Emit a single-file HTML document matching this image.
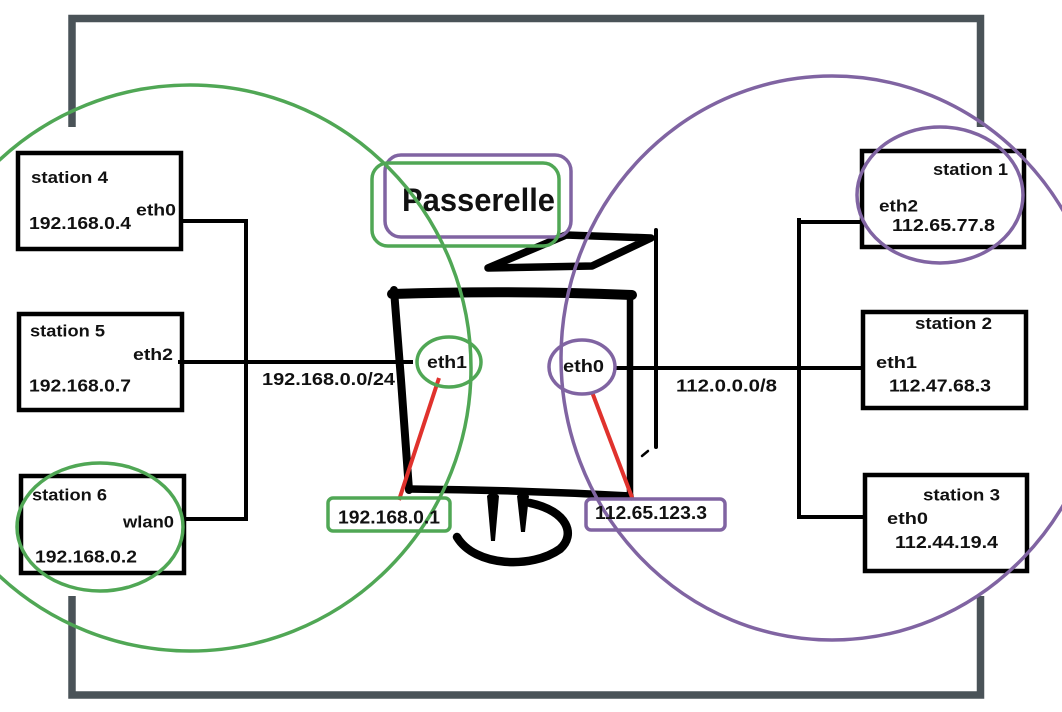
<!DOCTYPE html>
<html><head><meta charset="utf-8"><style>
html,body{margin:0;padding:0;background:#fff;}
svg{display:block;}
text{font-family:"Liberation Sans",Arial,sans-serif;fill:#111;font-weight:bold;}
</style></head><body>
<svg width="1062" height="712" viewBox="0 0 1062 712" xmlns="http://www.w3.org/2000/svg">
<!-- frame -->
<g stroke="#4a5358" stroke-width="7.5" fill="none" stroke-linecap="butt">
<polyline points="72,127 72,18.5 980.5,18.5 980.5,127"/>
<polyline points="72,596 72,695 980.5,695 980.5,596"/>
</g>

<!-- buses -->
<g stroke="#000" stroke-width="4" fill="none">
<line x1="181" y1="221" x2="248" y2="221"/>
<line x1="246" y1="219" x2="246" y2="521"/>
<line x1="184" y1="519" x2="248" y2="519"/>
<line x1="178" y1="362" x2="413" y2="362"/>
<line x1="799" y1="218" x2="799" y2="519"/>
<line x1="797" y1="222" x2="862" y2="222"/>
<line x1="615" y1="368" x2="863" y2="368"/>
<line x1="797" y1="517" x2="866" y2="517"/>
</g>

<!-- station boxes -->
<g stroke="#000" stroke-width="4.5" fill="none">
<rect x="18" y="153" width="163" height="96"/>
<rect x="19" y="314" width="163" height="96"/>
<rect x="21" y="476" width="163" height="97"/>
<rect x="862" y="151" width="162" height="96"/>
<rect x="863" y="312" width="163" height="96"/>
<rect x="865" y="475" width="162" height="96"/>
</g>

<!-- monitor sketch -->
<g stroke="#000" fill="none" stroke-linecap="round" stroke-linejoin="round">
<polygon points="488,268 566,235 651,238 592,266" stroke-width="7.5"/>
<path d="M392,294 Q510,290 632,295" stroke-width="10"/>
<path d="M394,290 L401,380 L409,490" stroke-width="8"/>
<path d="M409,489 Q520,490 630,496" stroke-width="7.5"/>
<path d="M630,296 L630,496" stroke-width="6.5"/>
<path d="M656,230 L656,447" stroke-width="4"/>
<path d="M642,456 L648,451" stroke-width="2.5"/>
<path d="M457,537 C475,567 532,569 560,549 C576,535 568,511 530,503" stroke-width="8.5"/>
</g>
<path d="M487,496 Q493,489 499,496 L495,541 L491,541 Z" fill="#000"/>
<path d="M517,496 Q523,489 529,496 L525,532 L521,532 Z" fill="#000"/>

<!-- passerelle boxes -->
<rect x="385" y="155" width="186" height="82" rx="16" fill="none" stroke="#8064a2" stroke-width="3.5"/>
<rect x="372" y="163" width="187" height="83" rx="16" fill="none" stroke="#50a755" stroke-width="3.5"/>
<text x="402" y="211" font-size="32" textLength="153" lengthAdjust="spacingAndGlyphs">Passerelle</text>

<!-- red links -->
<g stroke="#e0322d" stroke-width="4">
<line x1="439" y1="378" x2="399" y2="500"/>
<line x1="592" y1="392" x2="633" y2="500"/>
</g>

<!-- ip boxes -->
<rect x="328" y="498" width="122" height="33" rx="5" fill="none" stroke="#50a755" stroke-width="3.5"/>
<rect x="586" y="499" width="139" height="31" rx="5" fill="none" stroke="#8064a2" stroke-width="3.5"/>

<!-- circles -->
<g fill="none" stroke-width="3.5">
<ellipse cx="190" cy="368" rx="281" ry="283" stroke="#50a755"/>
<ellipse cx="832" cy="358" rx="271" ry="282" stroke="#8064a2"/>
<ellipse cx="100" cy="527" rx="83" ry="64" stroke="#50a755"/>
<ellipse cx="940" cy="195" rx="83" ry="68" stroke="#8064a2"/>
<ellipse cx="449" cy="362" rx="32" ry="25" stroke="#50a755"/>
<ellipse cx="582" cy="367" rx="33" ry="27" stroke="#8064a2"/>
</g>

<!-- texts -->
<g font-size="16.5">
<text x="31" y="183" textLength="77" lengthAdjust="spacingAndGlyphs">station 4</text>
<text x="136" y="215.5" textLength="40" lengthAdjust="spacingAndGlyphs">eth0</text>
<text x="29" y="229" font-size="17.5" textLength="102" lengthAdjust="spacingAndGlyphs">192.168.0.4</text>

<text x="30" y="336.5" textLength="75" lengthAdjust="spacingAndGlyphs">station 5</text>
<text x="133" y="360" textLength="40" lengthAdjust="spacingAndGlyphs">eth2</text>
<text x="29" y="391.5" font-size="17.5" textLength="102" lengthAdjust="spacingAndGlyphs">192.168.0.7</text>

<text x="32" y="500.5" textLength="75" lengthAdjust="spacingAndGlyphs">station 6</text>
<text x="123" y="527.5" textLength="51" lengthAdjust="spacingAndGlyphs">wlan0</text>
<text x="35" y="562.5" font-size="17.5" textLength="102" lengthAdjust="spacingAndGlyphs">192.168.0.2</text>

<text x="933" y="175" textLength="75" lengthAdjust="spacingAndGlyphs">station 1</text>
<text x="879" y="211.5" textLength="39" lengthAdjust="spacingAndGlyphs">eth2</text>
<text x="892" y="231" font-size="17.5" textLength="103" lengthAdjust="spacingAndGlyphs">112.65.77.8</text>

<text x="915" y="329" font-weight="normal" textLength="77" lengthAdjust="spacingAndGlyphs">station 2</text>
<text x="876" y="368" textLength="41" lengthAdjust="spacingAndGlyphs">eth1</text>
<text x="889" y="391.5" font-size="17.5" textLength="102" lengthAdjust="spacingAndGlyphs">112.47.68.3</text>

<text x="923" y="500.5" font-weight="normal" textLength="77" lengthAdjust="spacingAndGlyphs">station 3</text>
<text x="887" y="524" textLength="41" lengthAdjust="spacingAndGlyphs">eth0</text>
<text x="895" y="548" font-size="17.5" textLength="103" lengthAdjust="spacingAndGlyphs">112.44.19.4</text>

<text x="427" y="368" font-size="17.5" textLength="40" lengthAdjust="spacingAndGlyphs">eth1</text>
<text x="563" y="372" font-size="17.5" textLength="41" lengthAdjust="spacingAndGlyphs">eth0</text>
<text x="262" y="385" font-size="17.5" textLength="133" lengthAdjust="spacingAndGlyphs">192.168.0.0/24</text>
<text x="676" y="391.5" font-size="17.5" textLength="101" lengthAdjust="spacingAndGlyphs">112.0.0.0/8</text>
<text x="338" y="523.5" font-size="18" textLength="102" lengthAdjust="spacingAndGlyphs">192.168.0.1</text>
<text x="595" y="519" font-size="18" textLength="112" lengthAdjust="spacingAndGlyphs">112.65.123.3</text>
</g>
</svg>
</body></html>
